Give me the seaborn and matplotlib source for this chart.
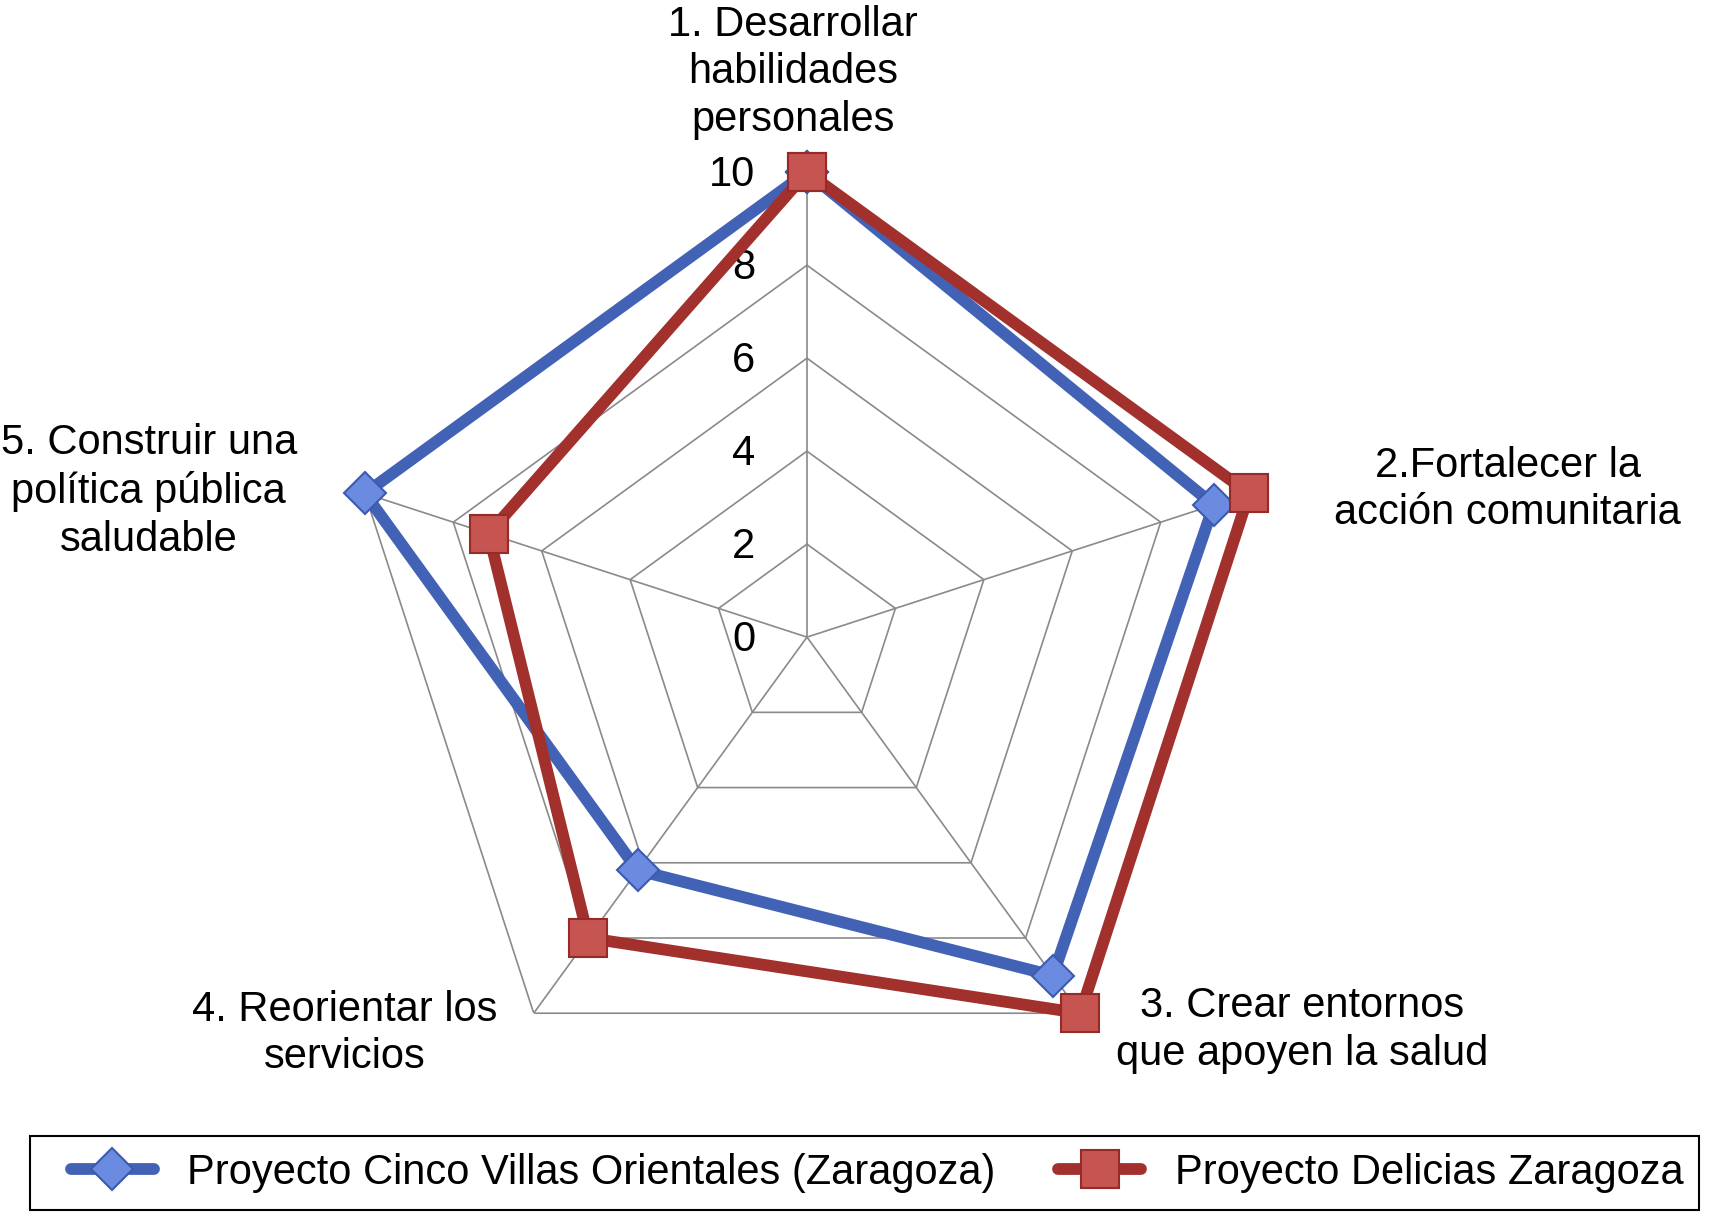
import numpy as np
import pandas as pd
import matplotlib
matplotlib.use("Agg")
import matplotlib.pyplot as plt
from matplotlib.patches import Rectangle
import seaborn as sns

# data
categories = [
    "1. Desarrollar\nhabilidades\npersonales",
    "2.Fortalecer la\nacción comunitaria",
    "3. Crear entornos\nque apoyen la salud",
    "4. Reorientar los\nservicios",
    "5. Construir una\npolítica pública\nsaludable",
]
cinco_villas = [10, 9.2, 9.0, 6.2, 10]
delicias = [10, 10, 10, 8.0, 7.2]
series_names = ["Proyecto Cinco Villas Orientales (Zaragoza)", "Proyecto Delicias Zaragoza"]
radial_ticks = [0, 2, 4, 6, 8, 10]

sns.set_style("white")
plt.rcParams['font.family'] = ['Liberation Sans', 'DejaVu Sans']
plt.rcParams['text.color'] = 'black'

n = len(categories)
angles = np.linspace(0, 2 * np.pi, n, endpoint=False)
closed = np.append(angles, angles[0])

fig = plt.figure(figsize=(17.21, 12.25), dpi=100)
ax = fig.add_axes([0.1987, 0.1004, 0.5404, 0.759], projection='polar')
ax.set_theta_offset(np.pi / 2)
ax.set_theta_direction(-1)
ax.set_ylim(0, 10)
ax.grid(False)
ax.spines['polar'].set_visible(False)
ax.set_xticks([])
ax.set_yticks([])

# polygon grid, excel style
grid_col = "#8a8a8a"
for r in radial_ticks[1:]:
    ax.plot(closed, [r] * len(closed), color=grid_col, lw=1.2, zorder=1)
for a in angles:
    ax.plot([a, a], [0, 10], color=grid_col, lw=1.2, zorder=1)

for r in radial_ticks:
    ax.annotate(str(r), xy=(0, r), xytext=(-37, -2), textcoords='offset points',
                ha='right', va='center', fontsize=30, color='black')

df_blue = pd.DataFrame({"theta": closed, "value": np.append(cinco_villas, cinco_villas[0])})
df_red = pd.DataFrame({"theta": closed, "value": np.append(delicias, delicias[0])})

sns.lineplot(data=df_blue, x="theta", y="value", ax=ax, sort=False, estimator=None,
             color="#4262b6", lw=8.5, marker="D", markersize=21,
             markerfacecolor="#6a8be0", markeredgecolor="#3c5bb0", markeredgewidth=1.5,
             label=series_names[0], zorder=3, clip_on=False)
sns.lineplot(data=df_red, x="theta", y="value", ax=ax, sort=False, estimator=None,
             color="#a2302c", lw=8.5, marker="s", markersize=27,
             markerfacecolor="#c65450", markeredgecolor="#962a27", markeredgewidth=1.5,
             label=series_names[1], zorder=4, clip_on=False)
ax.set_xlabel("")
ax.set_ylabel("")

# category labels (theta in plot convention, radius in data units)
label_pos = [(-1.4, 12.15), (78.1, 15.4), (128.4, 13.6), (229.4, 13.1), (282.5, 14.5)]
for text, (th, rr) in zip(categories, label_pos):
    ax.text(np.deg2rad(th), rr, text, ha='center', va='center', fontsize=30,
            linespacing=1.25, color='black')

# legend: content placed freely, frame drawn as a separate box like excel
handles, labels = ax.get_legend_handles_labels()
ax.get_legend().remove()
fig.legend(handles, labels, loc='center', bbox_to_anchor=(0.5096, 0.0425),
           ncol=2, fontsize=30, frameon=False,
           handlelength=2.0, columnspacing=1.5, borderpad=0.3, handletextpad=0.8)
fig.patches.append(Rectangle((0.0172, 0.0125), 0.97, 0.0601, transform=fig.transFigure,
                             fill=False, edgecolor='black', lw=1.5))

fig.savefig("out.png", dpi=100, facecolor='white')
